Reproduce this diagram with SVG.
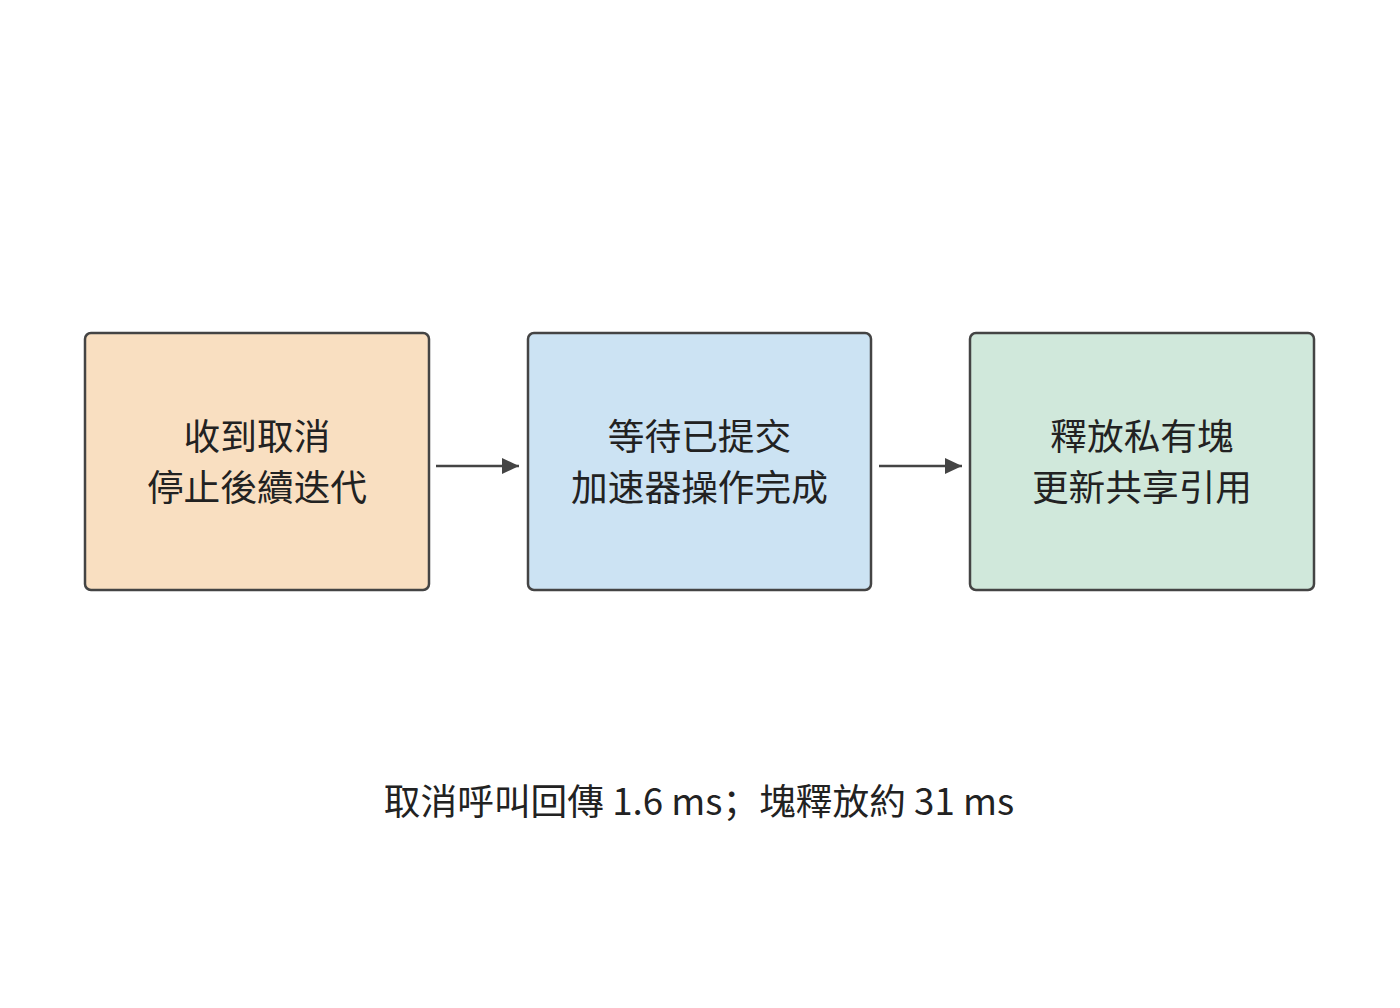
<svg xmlns="http://www.w3.org/2000/svg" width="1400" height="1008" viewBox="0 0 1400 1008">
<defs>
<style>
.box{stroke:#444;stroke-width:2.5}
.t{font-family:"Noto Sans CJK SC","Noto Sans CJK TC",sans-serif;font-size:36.7px;fill:#222;text-anchor:middle}
.edge{stroke:#444;stroke-width:2.7;fill:none}
</style>
<marker id="ah" viewBox="0 0 10 10" refX="10" refY="5" markerWidth="17" markerHeight="16" markerUnits="userSpaceOnUse" orient="auto" preserveAspectRatio="none">
<path d="M0,0 L10,5 L0,10 z" fill="#444"/>
</marker>
</defs>
<rect width="1400" height="1008" fill="#fff"/>
<g id="n1">
<rect class="box" x="85" y="333" width="344" height="257" rx="6" fill="#f9dfc1"/>
<text class="t" x="257" y="450">收到取消</text>
<text class="t" x="257" y="501">停止後續迭代</text>
</g>
<g id="n2">
<rect class="box" x="528" y="333" width="343" height="257" rx="6" fill="#cce3f3"/>
<text class="t" x="699.5" y="450">等待已提交</text>
<text class="t" x="699.5" y="501">加速器操作完成</text>
</g>
<g id="n3">
<rect class="box" x="970" y="333" width="344" height="257" rx="6" fill="#d0e8db"/>
<text class="t" x="1142" y="450">釋放私有塊</text>
<text class="t" x="1142" y="501">更新共享引用</text>
</g>
<g id="edges">
<line class="edge" x1="436" y1="466" x2="519" y2="466" marker-end="url(#ah)"/>
<line class="edge" x1="879" y1="466" x2="962" y2="466" marker-end="url(#ah)"/>
</g>
<text class="t" x="699" y="815">取消呼叫回傳 1.6 ms；塊釋放約 31 ms</text>
</svg>
